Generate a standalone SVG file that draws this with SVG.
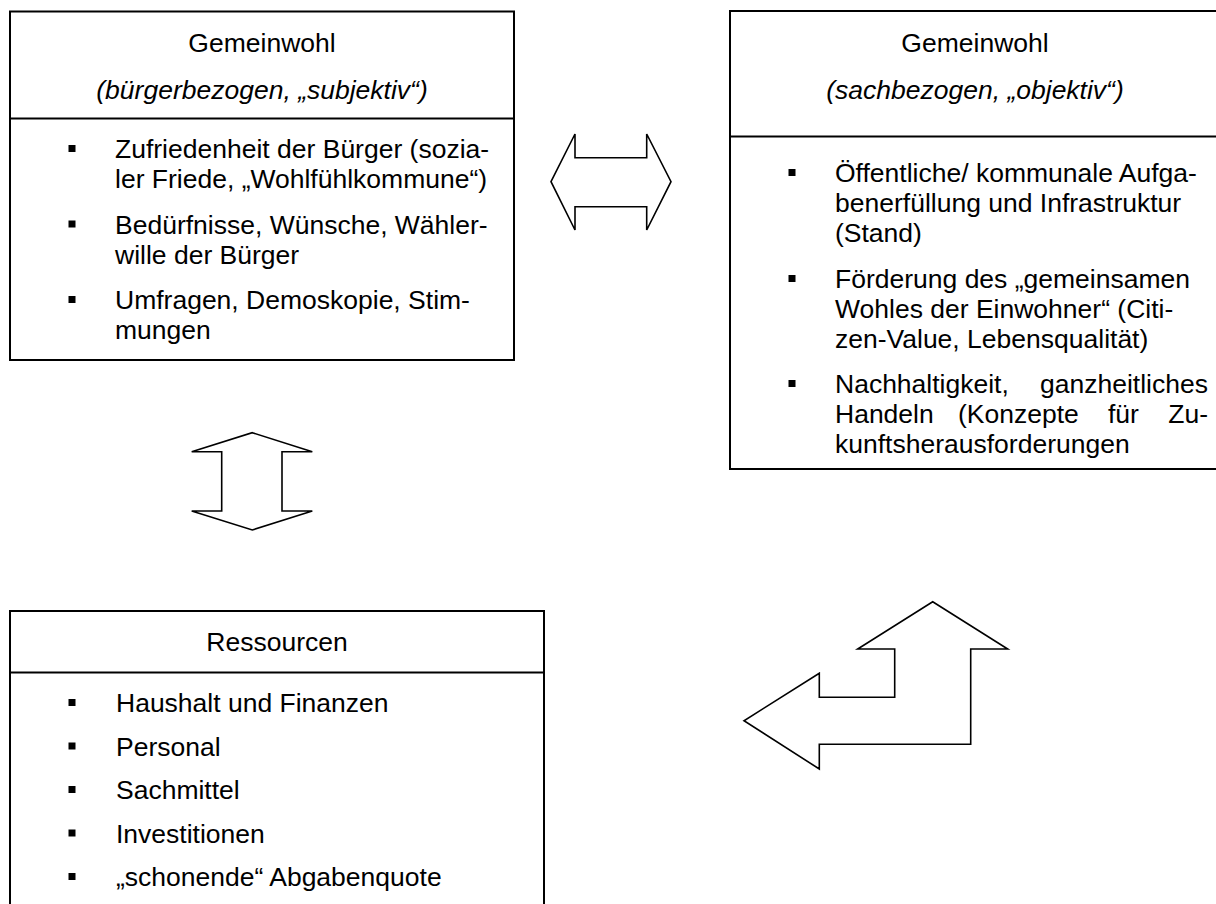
<svg xmlns="http://www.w3.org/2000/svg" width="1216" height="904" viewBox="0 0 1216 904">
<style>
  .box { fill: #fff; stroke: #000; stroke-width: 2; }
  .div { stroke: #000; stroke-width: 2; }
  .t { font-family: "Liberation Sans", Arial, sans-serif; font-size: 26.5px; fill: #000; }
  .c { text-anchor: middle; }
  .i { font-style: italic; }
  .arrow { fill: #fff; stroke: #000; stroke-width: 1.6; stroke-linejoin: miter; }
</style>
<defs>
  <rect id="bullet" x="-3.5" y="-3.5" width="7" height="7" fill="#000"/>
</defs>
<rect width="1216" height="904" fill="#fff"/>

<g id="node-gemeinwohl-subjektiv">
  <rect class="box" x="10" y="11.5" width="504" height="348.5"/>
  <line class="div" x1="10" y1="118.5" x2="514" y2="118.5"/>
  <text class="t c" x="262" y="51.5">Gemeinwohl</text>
  <text class="t c i" x="262" y="99">(bürgerbezogen, „subjektiv“)</text>
  <use href="#bullet" x="72" y="148.5"/>
  <text class="t" x="115" y="158">Zufriedenheit der Bürger (sozia-</text>
  <text class="t" x="115" y="188">ler Friede, „Wohlfühlkommune“)</text>
  <use href="#bullet" x="72" y="224"/>
  <text class="t" x="115" y="233.5">Bedürfnisse, Wünsche, Wähler-</text>
  <text class="t" x="115" y="263.5">wille der Bürger</text>
  <use href="#bullet" x="72" y="299.5"/>
  <text class="t" x="115" y="309">Umfragen, Demoskopie, Stim-</text>
  <text class="t" x="115" y="339">mungen</text>
</g>

<g id="node-gemeinwohl-objektiv">
  <rect class="box" x="730" y="11" width="490" height="458"/>
  <line class="div" x1="730" y1="136.5" x2="1220" y2="136.5"/>
  <text class="t c" x="975" y="51.5">Gemeinwohl</text>
  <text class="t c i" x="975" y="99">(sachbezogen, „objektiv“)</text>
  <use href="#bullet" x="792" y="172.5"/>
  <text class="t" x="835" y="182">Öffentliche/ kommunale Aufga-</text>
  <text class="t" x="835" y="212">benerfüllung und Infrastruktur</text>
  <text class="t" x="835" y="242">(Stand)</text>
  <use href="#bullet" x="792" y="278.5"/>
  <text class="t" x="835" y="288">Förderung des „gemeinsamen</text>
  <text class="t" x="835" y="318">Wohles der Einwohner“ (Citi-</text>
  <text class="t" x="835" y="348">zen-Value, Lebensqualität)</text>
  <use href="#bullet" x="792" y="383.5"/>
  <text class="t" x="835" y="393">Nachhaltigkeit,</text>
  <text class="t" x="1208" y="393" text-anchor="end">ganzheitliches</text>
  <text class="t" y="423"><tspan x="835">Handeln</tspan><tspan x="958">(Konzepte</tspan><tspan x="1108">für</tspan></text>
  <text class="t" x="1208" y="423" text-anchor="end">Zu-</text>
  <text class="t" x="835" y="452.5">kunftsherausforderungen</text>
</g>

<g id="node-ressourcen">
  <rect class="box" x="10" y="611" width="534" height="310"/>
  <line class="div" x1="10" y1="672.5" x2="544" y2="672.5"/>
  <text class="t c" x="277" y="651">Ressourcen</text>
  <use href="#bullet" x="72" y="702.5"/>
  <text class="t" x="116" y="712">Haushalt und Finanzen</text>
  <use href="#bullet" x="72" y="746"/>
  <text class="t" x="116" y="755.5">Personal</text>
  <use href="#bullet" x="72" y="789.5"/>
  <text class="t" x="116" y="799">Sachmittel</text>
  <use href="#bullet" x="72" y="833"/>
  <text class="t" x="116" y="842.5">Investitionen</text>
  <use href="#bullet" x="72" y="876.5"/>
  <text class="t" x="116" y="886">„schonende“ Abgabenquote</text>
</g>

<g id="connectors">
  <polygon id="arrow-horizontal" class="arrow" points="551,181.7 575,134 575,157.7 646.7,157.7 646.7,134 671,181.7 646.7,230 646.7,206.7 575,206.7 575,230"/>
  <polygon id="arrow-vertical" class="arrow" points="252.3,432.7 312.3,451.7 282,451.7 282,511 312.3,511 252.3,530 191.7,511 221.7,511 221.7,451.7 191.7,451.7"/>
  <polygon id="arrow-bent" class="arrow" points="932.7,601.7 1007.7,649 970.7,649 970.7,744.3 819.3,744.3 819.3,769 744,720.7 819.3,673.3 819.3,697.3 894.7,697.3 894.7,649 857.7,649"/>
</g>
</svg>
